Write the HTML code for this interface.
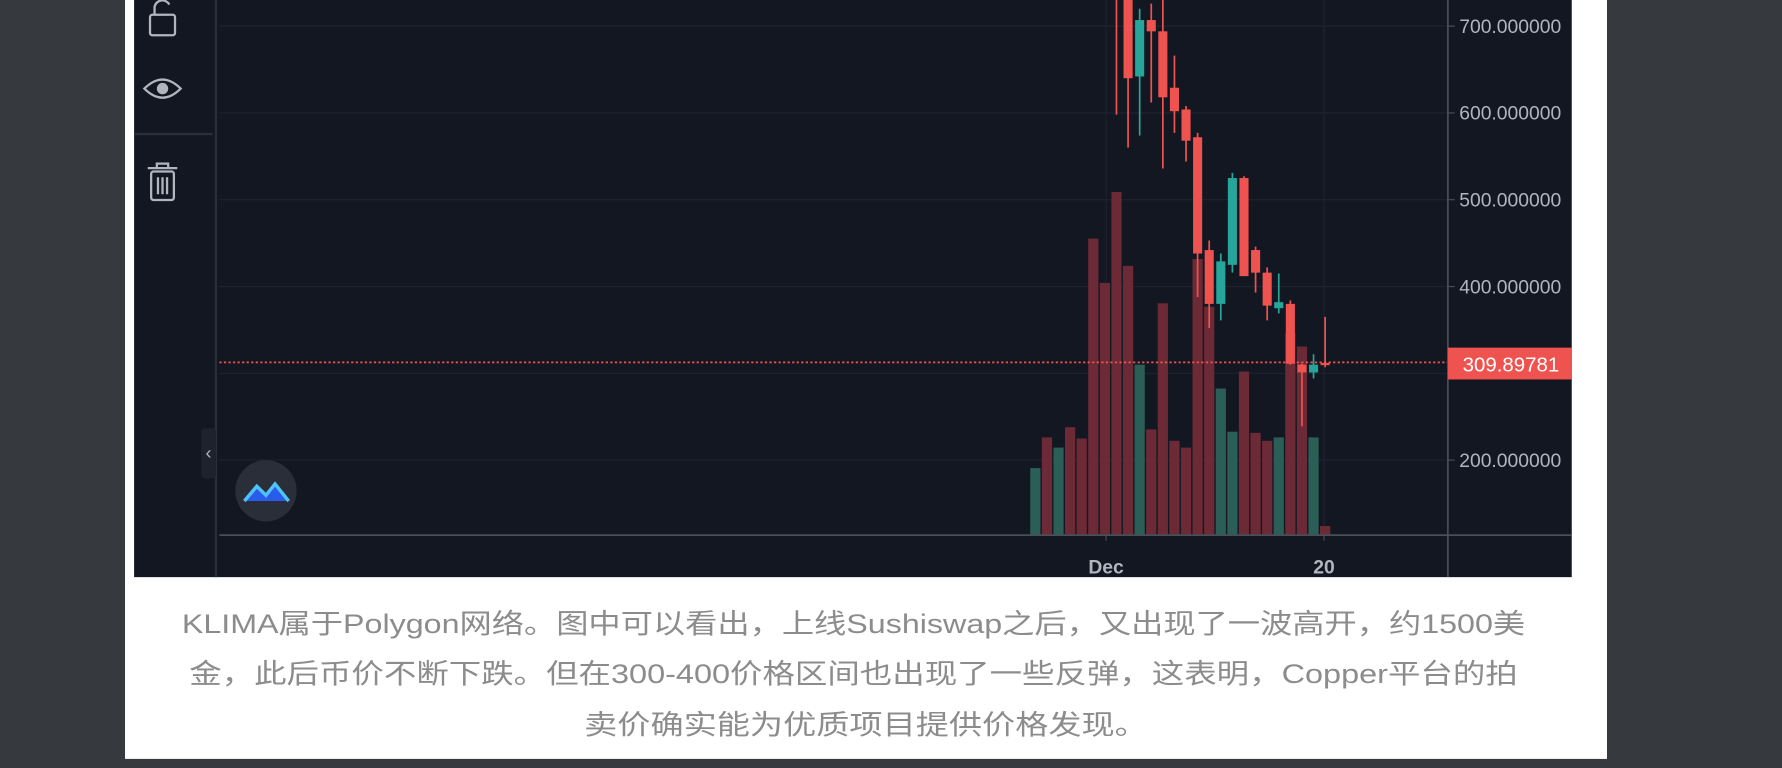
<!DOCTYPE html>
<html><head><meta charset="utf-8"><style>
html,body{margin:0;padding:0;background:#36393d;overflow:hidden}
svg{display:block}
</style></head><body>
<svg id="root" width="1782" height="768" viewBox="0 0 1568 676" preserveAspectRatio="none" xmlns="http://www.w3.org/2000/svg">
<defs><clipPath id="plotclip"><rect x="193" y="0" width="1081" height="471"/></clipPath>
<clipPath id="axisclip"><rect x="1274" y="0" width="109" height="508"/></clipPath></defs>
<rect x="0" y="0" width="1568" height="676" fill="#36393d"/>
<rect x="110" y="0" width="1304" height="668" fill="#ffffff"/>
<g>
<rect x="118" y="0" width="1265" height="508" fill="#131722"/>
<g id="grid"></g>
<g id="vols" clip-path="url(#plotclip)"></g>
<line x1="193" y1="319" x2="1274" y2="319" stroke="#ef5350" stroke-width="1.5" stroke-dasharray="2,2"/>
<g id="candles" clip-path="url(#plotclip)"></g>
<line x1="190" y1="0" x2="190" y2="508" stroke="#2a2e39" stroke-width="2"/>
<line x1="118" y1="118" x2="187" y2="118" stroke="#2a2e39" stroke-width="2"/>
<line x1="1274" y1="0" x2="1274" y2="508" stroke="#4a4e59" stroke-width="1.5"/>
<line x1="193" y1="471" x2="1383" y2="471" stroke="#4a4e59" stroke-width="1.5"/>
<g id="yaxis" clip-path="url(#axisclip)"></g>
<g id="xaxis"></g>
<g fill="none" stroke="#b2b5be" stroke-width="2">
<rect x="132" y="13" width="22" height="18" rx="2"/><path d="M136 13 V6 a7 7 0 0 1 13 -2"/></g>
<g fill="none" stroke="#b2b5be" stroke-width="2">
<path d="M127 78 Q143 62 159 78 Q143 94 127 78Z"/><circle cx="143" cy="78" r="4" fill="#b2b5be"/></g>
<g fill="none" stroke="#b2b5be" stroke-width="2">
<path d="M130 148 H156 M138 148 V144 H148 V148"/><rect x="133" y="151" width="20" height="25" rx="2"/>
<path d="M139 156 V171 M143 156 V171 M147 156 V171"/></g>
<g>
<rect x="177" y="377" width="13" height="44" rx="3" fill="#1e222d"/>
<text x="183.5" y="404" fill="#b2b5be" font-size="16" text-anchor="middle" font-family="Liberation Sans, sans-serif">‹</text></g>
<g>
<circle cx="234" cy="432" r="27" fill="#2a2e39"/>
<path d="M215 441 L226 428 L234 436 L242 426 L254 441 Z" fill="#2962ff" opacity="0.9"/>
<path d="M215 441 L226 428 L234 436 L242 426 L254 441" fill="none" stroke="#4fc3f7" stroke-width="3"/></g>
<g>
<rect x="1274" y="306" width="109" height="28" fill="#ef5350"/>
<text x="1287" y="327" fill="#ffffff" font-size="18" font-family="Liberation Sans, sans-serif">309.89781</text></g>
</g>
<g fill="#8c8c8c" font-size="24" font-family="Liberation Sans, Noto Sans CJK SC, sans-serif" text-anchor="middle">
<text x="751" y="557" textLength="1182" lengthAdjust="spacingAndGlyphs">KLIMA属于Polygon网络。图中可以看出，上线Sushiswap之后，又出现了一波高开，约1500美</text>
<text x="751" y="601" textLength="1169" lengthAdjust="spacingAndGlyphs">金，此后币价不断下跌。但在300-400价格区间也出现了一些反弹，这表明，Copper平台的拍</text>
<text x="762" y="646" textLength="496" lengthAdjust="spacingAndGlyphs">卖价确实能为优质项目提供价格发现。</text>
</g>
</svg>
<script>
const opens  = [1300,1350,1280,1320,1300,1250,1200,1200,900,642,707,694,629,604,572,442,380,425,525,442,416,375,380,310,301,312];
const closes = [1350,1280,1320,1300,1250,1200,1150,760,640,707,694,618,602,568,438,380,429,525,412,416,378,382,311,301,310,310];
const highs  = [1400,1400,1380,1380,1350,1300,1250,1500,1000,720,726,740,666,608,577,453,438,531,527,446,422,415,384,311,322,365];
const lows   = [1250,1250,1250,1250,1200,1150,1100,598,560,574,612,536,577,544,388,352,361,416,412,393,361,369,310,239,294,307];
const volumes= [59,86,77,95,85,261,222,302,237,150,93,204,83,77,243,201,129,91,144,90,83,86,178,166,86,8];
const priceTicks = [700,600,500,400,300,200];
const priceLabels = ["700.000000","600.000000","500.000000","400.000000","","200.000000"];
const timeTicks = [{i:6.1,label:"Dec"},{i:24.9,label:"20"}];
const NS="http://www.w3.org/2000/svg";
function yP(v){return 23+(700-v)*0.764;}
function xI(i){return 911+i*10.2;}
function yV(v){return 471-v;}
function mk(tag,attrs,parent){const e=document.createElementNS(NS,tag);for(const k in attrs)e.setAttribute(k,attrs[k]);parent.appendChild(e);return e;}
const grid=document.getElementById('grid');
priceTicks.forEach(function(p){
 const l=mk('line',{x1:193,x2:1274,y1:yP(p),y2:yP(p),stroke:'#1f2330','stroke-width':1},grid);
 
 
});
timeTicks.forEach(function(t){
 const l=mk('line',{x1:xI(t.i),x2:xI(t.i),y1:0,y2:471,stroke:'#1f2330','stroke-width':1},grid);
 
 
});
const ya=document.getElementById('yaxis');
priceTicks.forEach(function(p,k){
 if(!priceLabels[k])return;
 mk('line',{x1:1274,x2:1280,y1:yP(p),y2:yP(p),stroke:'#4a4e59'},ya);
 const t=mk('text',{x:1284,y:yP(p)+6,fill:'#b2b5be','font-size':17,'font-family':'Liberation Sans, sans-serif'},ya);
 t.textContent=priceLabels[k];
 
 
});
const xa=document.getElementById('xaxis');
timeTicks.forEach(function(tk){
 mk('line',{x1:xI(tk.i),x2:xI(tk.i),y1:471,y2:476,stroke:'#4a4e59'},xa);
 const t=mk('text',{x:xI(tk.i),y:505,fill:'#b2b5be','font-size':17,'font-weight':'bold','text-anchor':'middle','font-family':'Liberation Sans, sans-serif'},xa);
 t.textContent=tk.label;
 
 
});
const vg=document.getElementById('vols');
volumes.forEach(function(v,i){
 const up=closes[i]>=opens[i];
 const r=mk('rect',{x:xI(i)-4.5,y:yV(v),width:9,height:v,fill:up?'#2a5e56':'#6b2a35'},vg);
 
 
});
const cg=document.getElementById('candles');
opens.forEach(function(o,i){
 const c=closes[i],up=c>=o,col=up?'#26a69a':'#ef5350';
 const g=mk('g',{},cg);
 
 
 mk('line',{x1:xI(i),x2:xI(i),y1:yP(highs[i]),y2:yP(lows[i]),stroke:col,'stroke-width':1.5},g);
 const top=yP(Math.max(o,c)),bot=yP(Math.min(o,c));
 mk('rect',{x:xI(i)-4,y:top,width:8,height:Math.max(2,bot-top),fill:col},g);
});
</script>
</body></html>
